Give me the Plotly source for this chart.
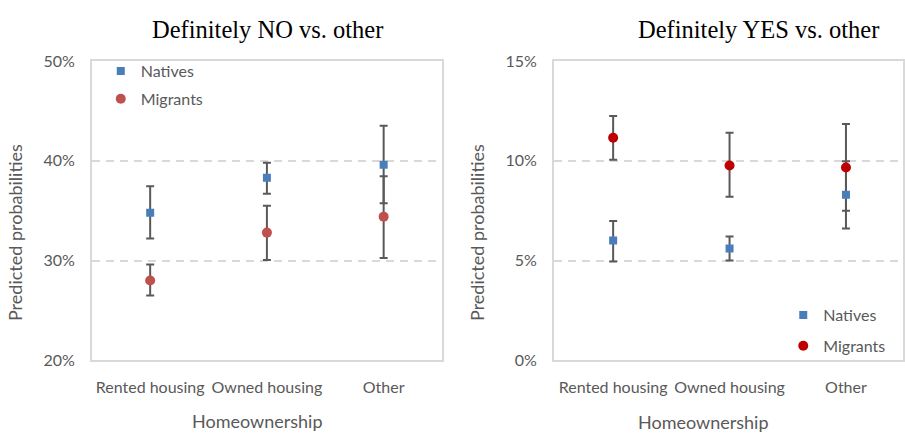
import plotly.graph_objects as go

categories = ["Rented housing", "Owned housing", "Other"]

# Definitely NO vs. other: predicted probabilities (%) with confidence bounds
no_natives = [34.8, 38.3, 39.6]
no_natives_lo = [32.2, 36.7, 35.75]
no_natives_hi = [37.45, 39.8, 43.5]
no_migrants = [28.0, 32.8, 34.4]
no_migrants_lo = [26.5, 30.05, 30.25]
no_migrants_hi = [29.6, 35.5, 38.45]

# Definitely YES vs. other
yes_natives = [6.0, 5.6, 8.3]
yes_natives_lo = [4.95, 5.0, 6.6]
yes_natives_hi = [6.98, 6.2, 9.97]
yes_migrants = [11.15, 9.76, 9.66]
yes_migrants_lo = [10.05, 8.2, 7.5]
yes_migrants_hi = [12.24, 11.4, 11.84]

no_ticks = [20, 30, 40, 50]
no_ticktext = ["20%", "30%", "40%", "50%"]
yes_ticks = [0, 5, 10, 15]
yes_ticktext = ["0%", "5%", "10%", "15%"]

GRAY_TXT = "#595959"
BORDER = "#d9d9d9"
BAR = "#595959"
FONT = "Lato"

xpos = list(range(len(categories)))

fig = go.Figure()


def add_series(xa, ya, vals, lo, hi):
    fig.add_trace(go.Scatter(
        x=xpos, y=vals, xaxis=xa, yaxis=ya, mode="markers",
        marker=dict(color="rgba(0,0,0,0)", size=1),
        error_y=dict(type="data", symmetric=False,
                     array=[h - v for h, v in zip(hi, vals)],
                     arrayminus=[v - l for v, l in zip(vals, lo)],
                     color=BAR, thickness=2, width=4),
        showlegend=False, hoverinfo="skip"))


def add_markers(xa, ya, vals, name, color, symbol, size, legend):
    fig.add_trace(go.Scatter(
        x=xpos, y=vals, xaxis=xa, yaxis=ya, mode="markers", name=name,
        marker=dict(color=color, symbol=symbol, size=size),
        legend=legend, legendgroup=legend + name))


# error bars first so every marker sits on top of them
add_series("x", "y", no_natives, no_natives_lo, no_natives_hi)
add_series("x", "y", no_migrants, no_migrants_lo, no_migrants_hi)
add_series("x2", "y2", yes_natives, yes_natives_lo, yes_natives_hi)
add_series("x2", "y2", yes_migrants, yes_migrants_lo, yes_migrants_hi)

add_markers("x", "y", no_natives, "Natives", "#4a7ebb", "square", 8, "legend")
add_markers("x", "y", no_migrants, "Migrants", "#c0504d", "circle", 10, "legend")
add_markers("x2", "y2", yes_natives, "Natives", "#4a7ebb", "square", 8, "legend2")
add_markers("x2", "y2", yes_migrants, "Migrants", "#c00000", "circle", 10, "legend2")

W, H = 905, 443
ydom = [1 - 366 / H, 1 - 53.3 / H]

common_x = dict(
    tickvals=xpos, ticktext=categories,
    showgrid=False, zeroline=False, showline=True, mirror=True,
    linecolor=BORDER, linewidth=1.5, ticks="outside", ticklen=12,
    tickcolor="rgba(0,0,0,0)", tickfont=dict(family=FONT, size=16, color=GRAY_TXT),
    fixedrange=True,
)
common_y = dict(
    showgrid=True, gridcolor=BORDER, gridwidth=1.5, griddash="8px,6px",
    zeroline=False, showline=True, mirror=True, linecolor=BORDER, linewidth=1.5,
    ticks="outside", ticklen=12, tickcolor="rgba(0,0,0,0)",
    tickfont=dict(family=FONT, size=16, color=GRAY_TXT), domain=ydom,
    fixedrange=True,
)

legend_common = dict(
    font=dict(family=FONT, size=16, color=GRAY_TXT), bgcolor="rgba(0,0,0,0)",
    traceorder="grouped", xanchor="left", yanchor="top",
    itemwidth=30, itemclick=False,
)

fig.update_layout(
    width=W, height=H, margin=dict(l=0, r=0, t=0, b=0),
    paper_bgcolor="white", plot_bgcolor="white",
    xaxis=dict(domain=[92 / W, 443 / W], anchor="y", range=[-0.5, 2.5], **common_x),
    yaxis=dict(anchor="x", range=[20, 50], tickvals=no_ticks,
               ticktext=no_ticktext, **common_y),
    xaxis2=dict(domain=[555 / W, 1.0], anchor="y2", range=[-0.51, 2.49], **common_x),
    yaxis2=dict(anchor="x2", range=[0, 15], tickvals=yes_ticks,
                ticktext=yes_ticktext, **common_y),
    legend=dict(x=101 / W, y=1 - 46 / H, tracegroupgap=4, **legend_common),
    legend2=dict(x=785 / W, y=1 - 301 / H, tracegroupgap=7, **legend_common),
)

title_font = dict(family="Liberation Serif", size=24.5, color="black")
axis_font = dict(family=FONT, size=18, color=GRAY_TXT)


def note(text, px, py, font, angle=0):
    fig.add_annotation(text=text, x=px / W, y=1 - py / H, xref="paper", yref="paper",
                       xanchor="center", yanchor="middle", showarrow=False,
                       font=font, textangle=angle)


note("Definitely NO vs. other", 268, 20, title_font)
note("Definitely YES vs. other", 760, 20, title_font)
note("Homeownership", 258, 429, axis_font)
note("Homeownership", 705, 430, axis_font)
note("Predicted probabilities", 15, 232, axis_font, -90)
note("Predicted probabilities", 478, 232, axis_font, -90)

fig.write_html("out.html")
